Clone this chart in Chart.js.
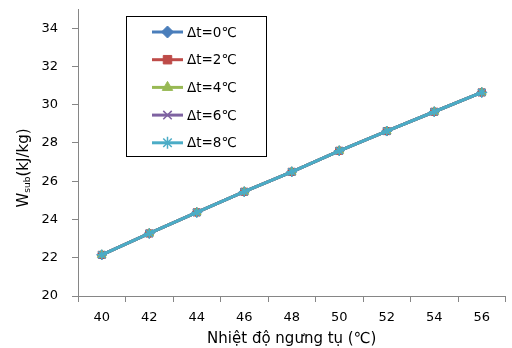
<!DOCTYPE html>
<html>
<head>
<meta charset="utf-8">
<script src="https://cdn.jsdelivr.net/npm/chart.js@4"></script>
<style>
  html, body { margin: 0; padding: 0; background: #fff; }
  #wrap { width: 512px; height: 348px; }
</style>
</head>
<body>
<div id="wrap"><canvas id="wsub"></canvas></div>
<script>
// nhiệt độ ngưng tụ (℃)
const temps = ['40', '42', '44', '46', '48', '50', '52', '54', '56'];
// W_sub (kJ/kg) theo Δt
const dt0 = [22.15, 23.27, 24.37, 25.45, 26.49, 27.59, 28.62, 29.63, 30.64];
const dt2 = [22.15, 23.27, 24.37, 25.45, 26.49, 27.59, 28.62, 29.63, 30.64];
const dt4 = [22.15, 23.27, 24.37, 25.45, 26.49, 27.59, 28.62, 29.63, 30.64];
const dt6 = [22.15, 23.27, 24.37, 25.45, 26.49, 27.59, 28.62, 29.63, 30.64];
const dt8 = [22.15, 23.27, 24.37, 25.45, 26.49, 27.59, 28.62, 29.63, 30.64];
const seriesNames = ['Δt=0℃', 'Δt=2℃', 'Δt=4℃', 'Δt=6℃', 'Δt=8℃'];
const yTicks = [20, 22, 24, 26, 28, 30, 32, 34];

const FONT = 'DejaVu Sans';
const colors = ['#4A7EBB', '#BE4B48', '#98B954', '#7E62A1', '#4BACC6'];
const styles = ['rectRot', 'rect', 'triangle', 'crossRot', 'star'];

function mkSet(i, data) {
  return {
    label: seriesNames[i],
    data: data,
    order: 5 - i, // đường sau vẽ đè lên đường trước
    borderColor: colors[i],
    backgroundColor: colors[i],
    borderWidth: 3,
    pointStyle: styles[i],
    pointRadius: 5,
    pointBorderWidth: (styles[i] === 'crossRot' || styles[i] === 'star') ? 1.5 : 1,
    pointBorderColor: colors[i],
    pointBackgroundColor: colors[i],
    tension: 0
  };
}

// khung chú thích kiểu Excel
const boxLegend = {
  id: 'boxLegend',
  afterDraw(chart) {
    const ctx = chart.ctx;
    ctx.save();
    ctx.strokeStyle = '#000';
    ctx.lineWidth = 1;
    ctx.fillStyle = '#fff';
    ctx.fillRect(126.5, 16.5, 140, 140);
    ctx.strokeRect(126.5, 16.5, 140, 140);
    chart.data.datasets.forEach((ds, i) => {
      const y = 32 + i * 27.7;
      ctx.strokeStyle = ds.borderColor;
      ctx.lineWidth = 3;
      ctx.beginPath();
      ctx.moveTo(152, y);
      ctx.lineTo(183, y);
      ctx.stroke();
      ctx.fillStyle = ds.backgroundColor;
      ctx.lineWidth = ds.pointBorderWidth;
      Chart.helpers.drawPoint(ctx, { pointStyle: ds.pointStyle, radius: 6, rotation: 0, borderWidth: ds.pointBorderWidth }, 167.5, y);
      ctx.fillStyle = '#000';
      ctx.font = '13.5px ' + FONT;
      ctx.textAlign = 'left';
      ctx.textBaseline = 'middle';
      ctx.fillText(ds.label, 187, y + 1);
    });
    // tên trục tung với chỉ số dưới
    ctx.translate(24, 168);
    ctx.rotate(-Math.PI / 2);
    ctx.fillStyle = '#000';
    ctx.textBaseline = 'middle';
    ctx.textAlign = 'left';
    const big = '15px ' + FONT, small = '9px ' + FONT;
    ctx.font = big;
    const wW = ctx.measureText('W').width;
    const rest = '(kJ/kg)';
    const wR = ctx.measureText(rest).width;
    ctx.font = small;
    const wS = ctx.measureText('sub').width;
    let x = -(wW + wS + wR) / 2;
    ctx.font = big;
    ctx.fillText('W', x, 0);
    x += wW;
    ctx.font = small;
    ctx.fillText('sub', x, 4);
    x += wS;
    ctx.font = big;
    ctx.fillText(rest, x, 0);
    ctx.restore();
  }
};

new Chart(document.getElementById('wsub').getContext('2d'), {
  type: 'line',
  data: {
    labels: temps,
    datasets: [mkSet(0, dt0), mkSet(1, dt2), mkSet(2, dt4), mkSet(3, dt6), mkSet(4, dt8)]
  },
  options: {
    responsive: true,
    maintainAspectRatio: false,
    animation: false,
    layout: { padding: { left: 30, right: 5, top: 9, bottom: 0 } },
    plugins: {
      legend: { display: false },
      tooltip: { enabled: false }
    },
    scales: {
      x: {
        offset: true,
        grid: {
          offset: true,
          drawOnChartArea: false,
          drawTicks: true,
          tickLength: 6,
          color: '#868686'
        },
        border: { color: '#868686', width: 1 },
        ticks: { color: '#000', font: { family: FONT, size: 13 }, padding: 8, maxRotation: 0 },
        title: {
          display: true,
          text: 'Nhiệt độ ngưng tụ (℃)',
          color: '#000',
          font: { family: FONT, size: 15 },
          padding: { top: 3, bottom: 0 }
        },
        afterFit(scale) { scale.height = 52; }
      },
      y: {
        min: 20,
        max: 35,
        afterBuildTicks(scale) { scale.ticks = yTicks.map(v => ({ value: v })); },
        grid: {
          drawOnChartArea: false,
          drawTicks: true,
          tickLength: 6,
          color: '#868686'
        },
        border: { color: '#868686', width: 1 },
        ticks: { color: '#000', font: { family: FONT, size: 13 }, padding: 14 },
        afterFit(scale) {
          scale.width = 48;
          scale.paddingTop = 0;
          scale.paddingBottom = 0;
        }
      }
    }
  },
  plugins: [boxLegend]
});
</script>
</body>
</html>
